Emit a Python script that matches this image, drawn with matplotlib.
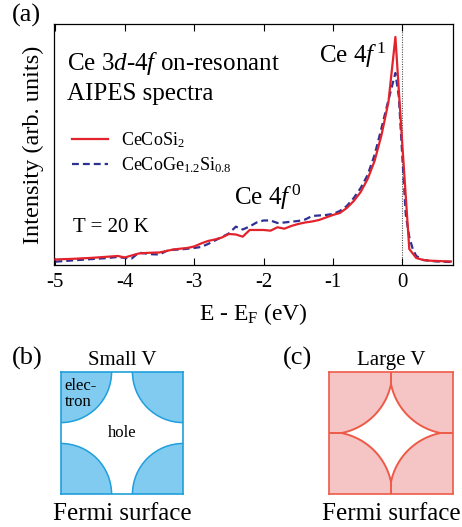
import numpy as np
import matplotlib
matplotlib.use('Agg')
import matplotlib.pyplot as plt
from matplotlib.patches import Wedge, Polygon

plt.rcParams['font.family'] = ['Liberation Serif', 'DejaVu Serif']
plt.rcParams['mathtext.fontset'] = 'custom'
plt.rcParams['mathtext.rm'] = 'Liberation Serif'
plt.rcParams['mathtext.it'] = 'Liberation Serif:italic'
plt.rcParams['axes.unicode_minus'] = False

# spectra (arb. units)
e_red = [-5.0, -4.9, -4.8, -4.7, -4.6, -4.5, -4.4, -4.3, -4.2, -4.1, -4.0, -3.9, -3.8, -3.7,
         -3.6, -3.5, -3.4, -3.3, -3.2, -3.1, -3.0, -2.9, -2.8, -2.7, -2.6, -2.5, -2.4, -2.3,
         -2.2, -2.1, -2.0, -1.9, -1.8, -1.7, -1.6, -1.5, -1.4, -1.3, -1.2, -1.1, -1.0, -0.9,
         -0.8, -0.7, -0.6, -0.5, -0.4, -0.3, -0.2, -0.1, 0.0, 0.1, 0.2, 0.3, 0.4, 0.5, 0.6, 0.7]
i_red = [5.5, 5.8, 6.0, 6.3, 6.7, 7.0, 7.5, 8.0, 8.5, 9.0, 7.5, 9.5, 11.5, 12.0,
         12.3, 12.5, 14.0, 15.5, 16.3, 17.0, 18.5, 21.5, 24.0, 25.5, 27.5, 31.0, 30.5, 28.3,
         35.0, 35.0, 35.0, 34.3, 37.7, 36.3, 39.0, 41.0, 42.5, 43.5, 45.0, 47.5, 50.0, 52.0,
         57.0, 64.0, 73.0, 86.0, 104.0, 130.0, 163.0, 228.0, 120.0, 16.0, 7.0, 5.0, 4.3, 4.0, 3.7, 3.5]

e_blue = [-5.0, -4.9, -4.8, -4.7, -4.6, -4.5, -4.4, -4.3, -4.2, -4.1, -4.0, -3.9, -3.8, -3.7,
          -3.6, -3.5, -3.4, -3.3, -3.2, -3.1, -3.0, -2.9, -2.8, -2.7, -2.6, -2.5, -2.4, -2.3,
          -2.2, -2.1, -2.0, -1.9, -1.8, -1.7, -1.6, -1.5, -1.4, -1.3, -1.2, -1.1, -1.0, -0.9,
          -0.8, -0.7, -0.6, -0.5, -0.4, -0.3, -0.2, -0.1, -0.05, 0.0, 0.05, 0.1, 0.15, 0.2,
          0.3, 0.4, 0.5, 0.6, 0.7]
i_blue = [3.3, 3.8, 4.3, 4.8, 5.3, 5.8, 6.2, 6.7, 7.3, 8.0, 7.0, 6.5, 12.3, 11.5,
          10.7, 10.5, 14.0, 15.2, 15.5, 16.2, 17.0, 18.0, 21.0, 24.5, 28.0, 31.5, 38.3, 35.5,
          38.5, 42.5, 44.5, 44.5, 42.0, 42.5, 43.3, 44.0, 45.5, 49.0, 49.5, 50.0, 51.0, 54.0,
          59.0, 67.0, 77.0, 90.0, 110.0, 137.0, 165.0, 192.0, 168.0, 108.0, 50.0, 28.0, 16.0, 9.0,
          5.0, 4.0, 3.5, 3.2, 3.0]

label_red = 'CeCoSi$_\\mathregular{2}$'
label_blue = 'CeCoGe$_\\mathregular{1.2}$Si$_\\mathregular{0.8}$'
xticks = [-5, -4, -3, -2, -1, 0]

red = '#e3232c'
blue = '#2e3192'

fig = plt.figure(figsize=(4.62, 5.27), dpi=100)

ax = fig.add_axes([0.1169, 0.4972, 0.8636, 0.4573])
ax.plot(e_red, i_red, color=red, lw=1.6, label=label_red, zorder=3)
ax.plot(e_blue, i_blue, color=blue, lw=1.6, dashes=(3.1, 1.8), label=label_blue, zorder=2)
ax.axvline(0, color='#555555', lw=0.8, ls=(0, (1, 1.2)), zorder=1)
ax.set_xlim(-5.02, 0.73)
ax.set_ylim(0, 241)
ax.set_xticks(xticks)
ax.set_xticklabels([str(t) for t in xticks], fontfamily='Liberation Serif')
ax.set_yticks([])
ax.tick_params(axis='x', direction='in', top=True, length=5, width=0.8, labelsize=15, pad=6)
for s in ax.spines.values():
    s.set_linewidth(0.9)
ax.set_xlabel('E - E$_\\mathregular{F}$ (eV)', fontsize=17, labelpad=6)
ax.set_ylabel('Intensity (arb. units)', fontsize=17.5, labelpad=7)

ax.text(0.033, 0.809, 'Ce 3$d$-4$f$ on-resonant', transform=ax.transAxes, fontsize=18, va='baseline')
ax.text(0.033, 0.685, 'AIPES spectra', transform=ax.transAxes, fontsize=18, va='baseline')
ax.text(-1.2, 202, 'Ce 4$f^{\\,\\mathregular{1}}$', fontsize=18, va='baseline')
ax.text(-2.42, 60, 'Ce 4$f^{\\,\\mathregular{0}}$', fontsize=18, va='baseline')
ax.text(-4.74, 33, 'T = 20 K', fontsize=15, va='baseline')

ax.legend(loc='upper left', bbox_to_anchor=(0.045, 0.56), frameon=False, fontsize=13,
          handlelength=2.0, handletextpad=0.7, borderpad=0, borderaxespad=0, labelspacing=0.3)

fig.text(0.026, 0.970, '(a)', fontsize=19, va='center')

# (b) small V: separate electron pockets
axb = fig.add_axes([0.1314, 0.0620, 0.2654, 0.2326])
axb.set_xlim(0, 1)
axb.set_ylim(0, 1)
r_small = 0.415
for cx, cy in [(0, 0), (1, 0), (0, 1), (1, 1)]:
    axb.add_patch(Wedge((cx, cy), r_small, 0, 360, facecolor='#80cbef', edgecolor='#1f9fdb', lw=1.1))
axb.set_xticks([])
axb.set_yticks([])
for s in axb.spines.values():
    s.set_color('#1f9fdb')
    s.set_linewidth(1.2)
axb.text(0.03, 0.95, 'elec-\ntron', fontsize=12, va='top', ha='left', linespacing=1.05)
axb.text(0.5, 0.5, 'hole', fontsize=12, va='center', ha='center')
axb.set_title('Small V', fontsize=15, pad=5)
axb.set_xlabel('Fermi surface', fontsize=18, labelpad=6)
fig.text(0.026, 0.3207, '(b)', fontsize=19, va='center')

# (c) large V: overlapping pockets leave a star-shaped hole
axc = fig.add_axes([0.7121, 0.0620, 0.2684, 0.2326])
axc.set_xlim(0, 1)
axc.set_ylim(0, 1)
axc.set_facecolor('#f5c4c4')
r_large = 0.51
d = np.sqrt(r_large ** 2 - 0.25)
tips = [(0.5, d), (1 - d, 0.5), (0.5, 1 - d), (d, 0.5)]
corners = [(1, 0), (1, 1), (0, 1), (0, 0)]
pts = []
for k, (cx, cy) in enumerate(corners):
    p0 = tips[k]
    p1 = tips[(k + 1) % 4]
    a0 = np.arctan2(p0[1] - cy, p0[0] - cx)
    a1 = np.arctan2(p1[1] - cy, p1[0] - cx)
    da = (a1 - a0 + np.pi) % (2 * np.pi) - np.pi
    th = a0 + np.linspace(0, da, 40)
    pts.extend(zip(cx + r_large * np.cos(th), cy + r_large * np.sin(th)))
axc.add_patch(Polygon(pts, closed=True, facecolor='white', edgecolor='#ee5a48', lw=1.4))
edge_pts = [(0.5, 0), (1, 0.5), (0.5, 1), (0, 0.5)]
for (x0, y0), (x1, y1) in zip(edge_pts, tips):
    axc.plot([x0, x1], [y0, y1], color='#ee5a48', lw=1.4)
axc.set_xticks([])
axc.set_yticks([])
for s in axc.spines.values():
    s.set_color('#ee5a48')
    s.set_linewidth(1.2)
axc.set_title('Large V', fontsize=15, pad=5)
axc.set_xlabel('Fermi surface', fontsize=18, labelpad=6)
fig.text(0.613, 0.3207, '(c)', fontsize=19, va='center')

fig.savefig('out.png', dpi=100)
